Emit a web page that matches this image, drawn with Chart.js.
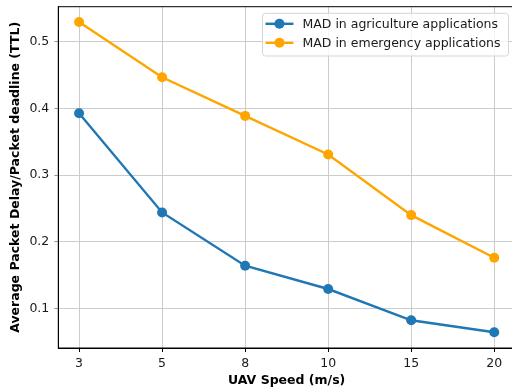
<!DOCTYPE html>
<html>
<head>
<meta charset="utf-8">
<script src="https://cdn.jsdelivr.net/npm/chart.js@4"></script>
<style>
  html, body { margin: 0; padding: 0; background: #fff; overflow: hidden; }
  #wrap { width: 520px; height: 391px; position: relative; }
</style>
</head>
<body>
<div id="wrap"><canvas id="speedChart"></canvas></div>
<script>
// UAV speeds (m/s), equally spaced on the x axis
const speeds = ["3", "5", "8", "10", "15", "20"];

const agricultureDelay = [0.393, 0.244, 0.164, 0.129, 0.082, 0.064];
const emergencyDelay = [0.530, 0.447, 0.389, 0.331, 0.240, 0.176];

const yTicks = [0.1, 0.2, 0.3, 0.4, 0.5];

const FONT = "'DejaVu Sans', sans-serif";

const toPoints = values => values.map((v, i) => ({ x: i, y: v }));

// Frame on top and right side of the plot area
const framePlugin = {
    id: 'frame',
    afterDatasetsDraw(chart) {
        const { ctx, chartArea: a } = chart;
        ctx.save();
        ctx.strokeStyle = '#000';
        ctx.lineWidth = 1;
        ctx.strokeRect(a.left, a.top, a.right - a.left, a.bottom - a.top);
        ctx.restore();
    }
};

// Legend box in the upper right corner, line + marker handles
const legendPlugin = {
    id: 'boxLegend',
    afterDraw(chart) {
        const { ctx, chartArea: a } = chart;
        const sets = chart.data.datasets;
        ctx.save();
        ctx.font = `12.5px ${FONT}`;
        const textW = Math.max(...sets.map(d => ctx.measureText(d.label).width));
        const w = 3 + 28 + 9 + textW + 8;
        const h = 42.7;
        const x0 = Math.min(a.right, chart.width - 3) - 6.5 - w;
        const y0 = a.top + 6.6;

        ctx.beginPath();
        ctx.roundRect(x0, y0, w, h, 3);
        ctx.fillStyle = 'rgba(255,255,255,0.8)';
        ctx.fill();
        ctx.strokeStyle = '#d5d5d5';
        ctx.lineWidth = 1;
        ctx.stroke();

        sets.forEach((d, i) => {
            const cy = y0 + 10.5 + i * 19;
            const hx = x0 + 3;
            ctx.strokeStyle = d.borderColor;
            ctx.lineWidth = 2.4;
            ctx.beginPath();
            ctx.moveTo(hx, cy);
            ctx.lineTo(hx + 28, cy);
            ctx.stroke();
            ctx.fillStyle = d.borderColor;
            ctx.beginPath();
            ctx.arc(hx + 14, cy, 5, 0, Math.PI * 2);
            ctx.fill();
            ctx.fillStyle = '#1a1a1a';
            ctx.textBaseline = 'middle';
            ctx.textAlign = 'left';
            ctx.fillText(d.label, hx + 37, cy + 0.5);
        });
        ctx.restore();
    }
};

const lineStyle = color => ({
    borderColor: color,
    backgroundColor: color,
    borderWidth: 2.4,
    pointRadius: 5,
    pointHoverRadius: 5,
    pointBorderWidth: 0,
    tension: 0
});

const ctx = document.getElementById('speedChart').getContext('2d');
const speedChart = new Chart(ctx, {
    type: 'line',
    data: {
        datasets: [
            {
                label: 'MAD in agriculture applications',
                data: toPoints(agricultureDelay),
                ...lineStyle('#1f77b4')
            },
            {
                label: 'MAD in emergency applications',
                data: toPoints(emergencyDelay),
                ...lineStyle('#ffa500')
            }
        ]
    },
    options: {
        responsive: true,
        maintainAspectRatio: false,
        animation: false,
        layout: { padding: { top: 0, right: 0, left: 0, bottom: 0 } },
        plugins: {
            legend: { display: false },
            tooltip: { enabled: false }
        },
        scales: {
            x: {
                type: 'linear',
                min: -0.25,
                max: speeds.length - 0.75,
                afterBuildTicks: axis => {
                    axis.ticks = speeds.map((s, i) => ({ value: i }));
                },
                afterFit: axis => {
                    axis.height = 43;
                    axis.paddingLeft = 0;
                    axis.paddingRight = 4;
                },
                ticks: {
                    callback: v => speeds[v],
                    color: '#1a1a1a',
                    font: { family: FONT, size: 12.5 },
                    padding: 4,
                    maxRotation: 0
                },
                grid: {
                    color: '#cccccc',
                    lineWidth: 1,
                    tickColor: '#000',
                    tickLength: 4
                },
                border: { display: true, color: '#000', width: 1 },
                title: {
                    display: true,
                    text: 'UAV Speed (m/s)',
                    color: '#000',
                    font: { family: FONT, size: 12.5, weight: 'bold' },
                    padding: { top: 0, bottom: 3 }
                }
            },
            y: {
                type: 'linear',
                min: 0.0404,
                max: 0.553,
                afterBuildTicks: axis => {
                    axis.ticks = yTicks.map(v => ({ value: v }));
                },
                afterFit: axis => {
                    axis.width = 58.3;
                    axis.paddingTop = 6.7;
                    axis.paddingBottom = 0;
                },
                ticks: {
                    callback: v => v.toFixed(1),
                    color: '#1a1a1a',
                    font: { family: FONT, size: 12.5 },
                    padding: 5
                },
                grid: {
                    color: '#cccccc',
                    lineWidth: 1,
                    tickColor: '#999',
                    tickLength: 4
                },
                border: { display: true, color: '#000', width: 1 },
                title: {
                    display: true,
                    text: 'Average Packet Delay/Packet deadline (TTL)',
                    color: '#000',
                    font: { family: FONT, size: 12.5, weight: 'bold' },
                    padding: { top: 8, bottom: 0 }
                }
            }
        }
    },
    plugins: [framePlugin, legendPlugin]
});
</script>
</body>
</html>
